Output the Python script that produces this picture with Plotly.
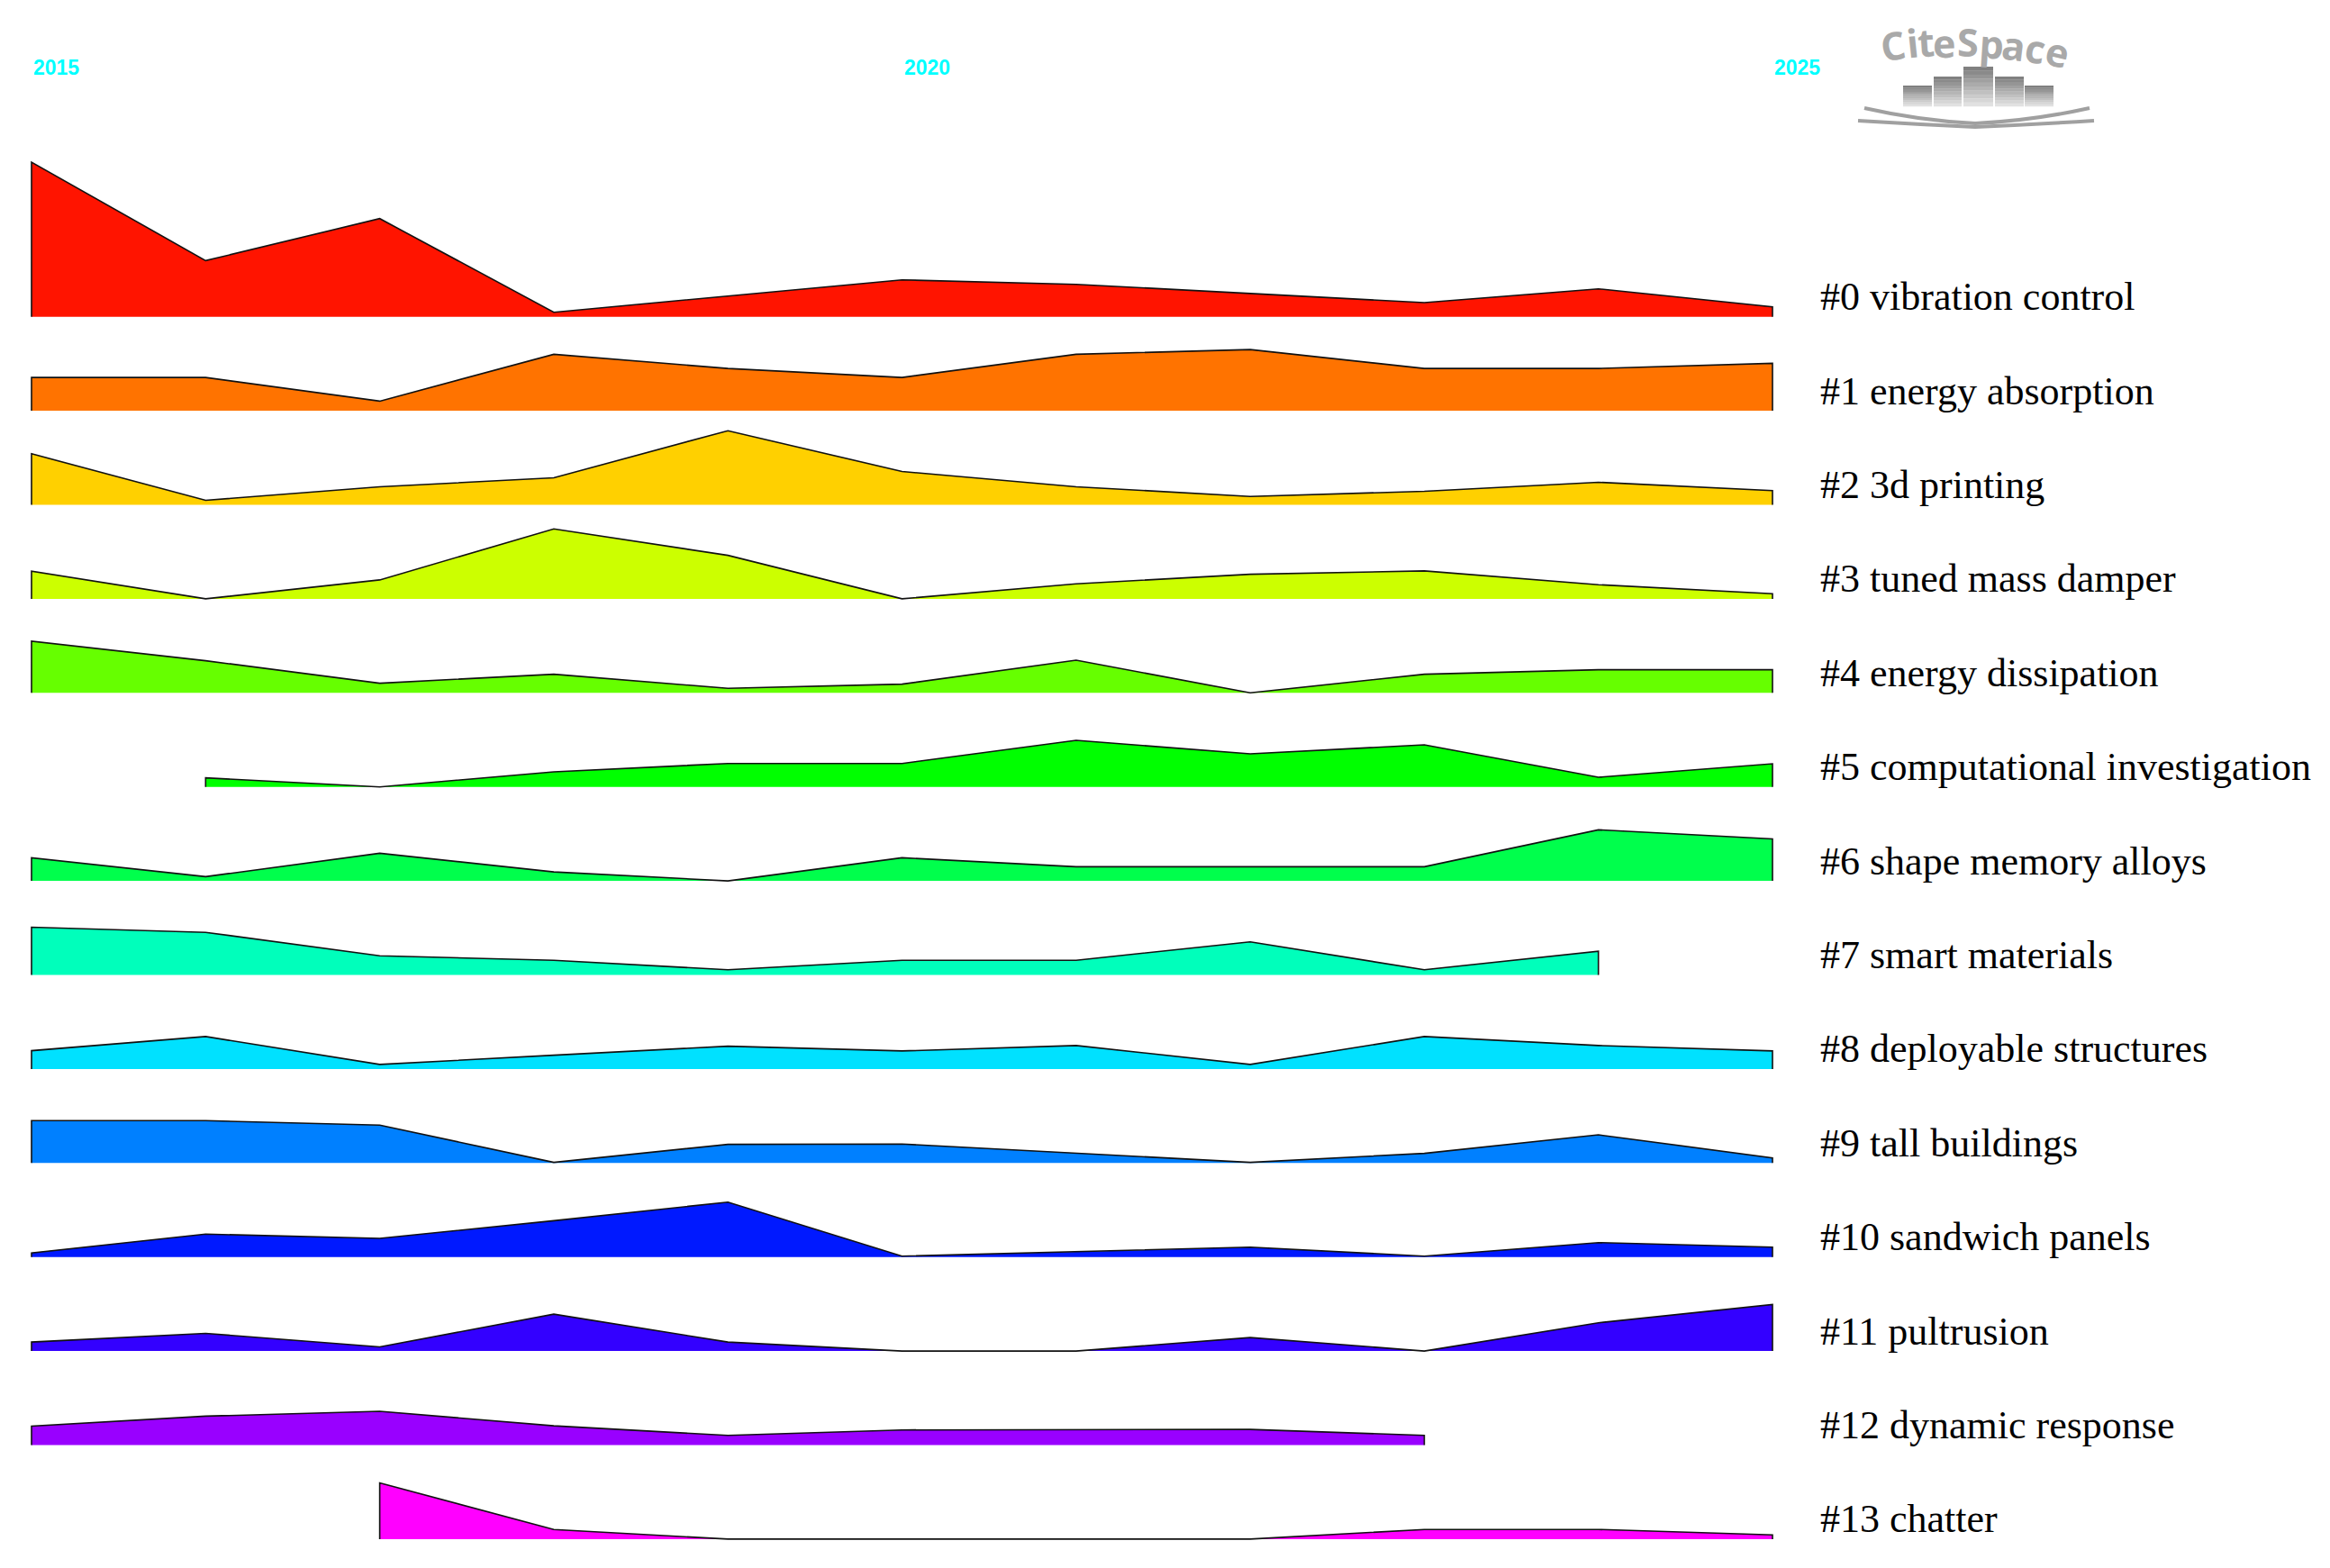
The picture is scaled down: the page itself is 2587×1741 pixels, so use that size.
import plotly.graph_objects as go

# CiteSpace timeline (landscape view) of keyword clusters, 2015-2025
YEARS = list(range(2015, 2026))

CLUSTER_LABELS = [
    "#0 vibration control",
    "#1 energy absorption",
    "#2 3d printing",
    "#3 tuned mass damper",
    "#4 energy dissipation",
    "#5 computational investigation",
    "#6 shape memory alloys",
    "#7 smart materials",
    "#8 deployable structures",
    "#9 tall buildings",
    "#10 sandwich panels",
    "#11 pultrusion",
    "#12 dynamic response",
    "#13 chatter",
]

CLUSTER_COLORS = [
    "#ff1400", "#ff7300", "#ffd000", "#ccff00", "#66ff00", "#00ff00", "#00ff4c",
    "#00ffbb", "#00e1ff", "#0080ff", "#0019ff", "#3300ff", "#9900ff", "#ff00ff",
]

# yearly heights per cluster (None = cluster not present that year)
vibration_control = [171.7, 62.3, 109, 5, 23, 41, 36, 25.7, 15.7, 31, 11]
energy_absorption = [37, 37, 10.7, 62.7, 47, 37, 62.7, 68, 47, 47, 52.7]
printing_3d = [56.7, 5, 20, 30, 82.3, 37, 20, 9.3, 15, 25, 15.7]
tuned_mass_damper = [30.7, 0, 21, 77.7, 48.3, 0, 16.7, 27.3, 31, 15.7, 5.7]
energy_dissipation = [57.3, 35.7, 10.7, 20.7, 5, 9.7, 36.3, 0, 20.7, 25.7, 25.7]
computational_investigation = [None, 10, 0, 16.7, 26, 26, 51.7, 36.7, 46.7, 10.7, 25.7]
shape_memory_alloys = [25.7, 4.7, 30.7, 10, 0, 25.7, 15.7, 15.7, 15.7, 56.7, 46.7]
smart_materials = [53, 47.3, 21.3, 16.3, 5.7, 16.3, 16.3, 36.7, 5.7, 26.3, None]
deployable_structures = [20.3, 36, 5, 15.3, 25.3, 20, 26, 5, 36, 26, 20]
tall_buildings = [47, 47, 42, 0.7, 20.7, 21, 11, 0.7, 10.7, 31.3, 5.7]
sandwich_panels = [4.6, 25.4, 20.7, 40.3, 61, 1, 5.7, 11, 1, 16, 11]
pultrusion = [10, 19.6, 4.6, 41, 10, 0, 0, 15, 0, 31.4, 51.7]
dynamic_response = [21, 32.1, 37.5, 21.4, 10.7, 16.8, 17.4, 17.4, 10.7, None, None]
chatter = [None, None, 62.4, 10.7, 0, 0, 0, 0, 10.7, 10.7, 4.6]

series = [
    vibration_control, energy_absorption, printing_3d, tuned_mass_damper,
    energy_dissipation, computational_investigation, shape_memory_alloys,
    smart_materials, deployable_structures, tall_buildings, sandwich_panels,
    pultrusion, dynamic_response, chatter,
]

YEAR_TICKS = [2015, 2020, 2025]

# page geometry (pixels); the html body adds an 8px margin, so shift everything back
W, H = 2587, 1741
PAGE_OFFSET = 8
X_LEFT_PX, X_RIGHT_PX = 35 - PAGE_OFFSET, 1968 - PAGE_OFFSET
BASE0_PX, PITCH_PX = 351.7 - PAGE_OFFSET, 104.4

px_per_year = (X_RIGHT_PX - X_LEFT_PX) / (YEARS[-1] - YEARS[0])
x_min = YEARS[0] - X_LEFT_PX / px_per_year
x_max = x_min + W / px_per_year


def px_to_year(px):
    return x_min + (px - PAGE_OFFSET) / px_per_year


def px_x(px):
    return (px - PAGE_OFFSET) / W


def px_y(py):
    return -(py - PAGE_OFFSET)


fig = go.Figure()

for i, (vals, color) in enumerate(zip(series, CLUSTER_COLORS)):
    base = -(BASE0_PX + i * PITCH_PX)
    xs = [yr for yr, v in zip(YEARS, vals) if v is not None]
    ys = [base + v for v in vals if v is not None]
    # filled area
    fig.add_trace(go.Scatter(
        x=xs + [xs[-1], xs[0]], y=ys + [base, base],
        fill="toself", fillcolor=color, mode="lines",
        line=dict(width=0, color=color), hoverinfo="skip", showlegend=False,
    ))
    # outline: left edge, top, right edge (no bottom)
    fig.add_trace(go.Scatter(
        x=[xs[0]] + xs + [xs[-1]], y=[base] + ys + [base],
        mode="lines", line=dict(width=1.6, color="#111111"),
        hoverinfo="skip", showlegend=False,
    ))
    fig.add_annotation(
        x=px_to_year(2019), y=base + 22, xref="x", yref="y",
        text=CLUSTER_LABELS[i], showarrow=False, xanchor="left", yanchor="middle",
        font=dict(family="Liberation Serif", size=44, color="black"),
    )

for yr in YEAR_TICKS:
    fig.add_annotation(
        x=yr, y=px_y(75), xref="x", yref="y", text=f"<b>{yr}</b>", showarrow=False,
        xanchor="left", yanchor="middle",
        font=dict(family="Liberation Sans", size=23, color="#00ffff"),
    )

# CiteSpace logo (decoration)
logo_letters = list("CiteSpace")
letter_x = [2101, 2123, 2138, 2158, 2185, 2211, 2236, 2260, 2284]
letter_y = [50, 47, 46, 47, 46, 48, 50, 53, 57]
letter_rot = [-9, -6, -4, -2, 0, 4, 7, 10, 13]
for ch, lx, ly, rot in zip(logo_letters, letter_x, letter_y, letter_rot):
    fig.add_annotation(
        x=px_x(lx), y=px_y(ly), xref="paper", yref="y", text=f"<b>{ch}</b>",
        showarrow=False, xanchor="center", yanchor="middle", textangle=rot,
        font=dict(family="Open Sans", size=43, color="#a9a9a9"),
    )

bar_x = [(2113, 2145), (2147, 2178), (2180, 2213), (2215, 2247), (2248, 2280)]
bar_top = [95, 85, 74, 85, 95]
bar_bottom = 118
bands = 10
for (bx0, bx1), top in zip(bar_x, bar_top):
    step = (bar_bottom - top) / bands
    for k in range(bands):
        g = int(128 + k * (225 - 128) / (bands - 1))
        fig.add_shape(
            type="rect", xref="paper", yref="y",
            x0=px_x(bx0), x1=px_x(bx1),
            y0=px_y(top + k * step), y1=px_y(top + (k + 1) * step + 0.3),
            fillcolor=f"rgb({g},{g},{g})", line=dict(width=0), layer="above",
        )


def book_path(x0, y0, cx, cy, x1, y1):
    return (f"M {px_x(x0)},{px_y(y0)} Q {px_x((x0 + cx) / 2)},{px_y(cy - 3)} "
            f"{px_x(cx)},{px_y(cy)} Q {px_x((cx + x1) / 2)},{px_y(cy - 3)} "
            f"{px_x(x1)},{px_y(y1)}")


fig.add_shape(type="path", xref="paper", yref="y",
              path=book_path(2070, 120, 2193, 137, 2320, 120),
              line=dict(color="#a0a0a0", width=4))
fig.add_shape(type="path", xref="paper", yref="y",
              path=book_path(2063, 134, 2193, 141, 2325, 134),
              line=dict(color="#a0a0a0", width=4))

fig.update_layout(
    width=W, height=H,
    margin=dict(l=0, r=0, t=0, b=0),
    paper_bgcolor="white", plot_bgcolor="white",
    xaxis=dict(range=[x_min, x_max], visible=False, fixedrange=True),
    yaxis=dict(range=[-H, 0], visible=False, fixedrange=True),
    showlegend=False,
)

fig.write_html("out.html")
